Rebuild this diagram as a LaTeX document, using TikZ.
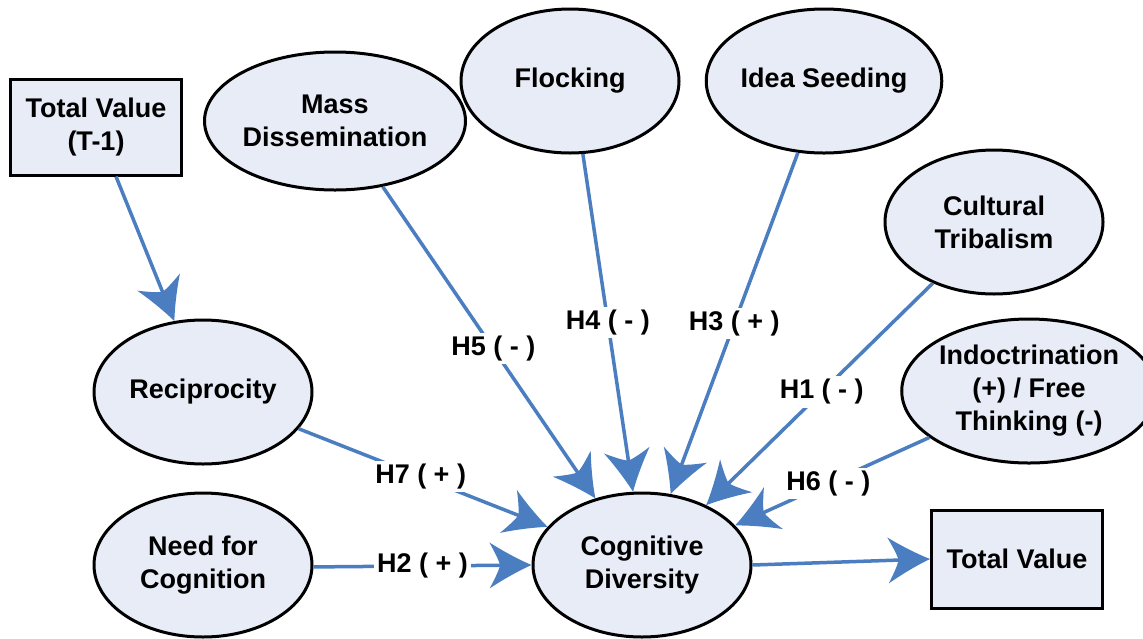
\documentclass[tikz,border=0pt]{standalone}
\usepackage{fontspec}
\setmainfont{Liberation Sans}
\usetikzlibrary{arrows.meta,shapes.geometric}
\definecolor{linkblue}{HTML}{4A7EC1}
\definecolor{nodefill}{HTML}{E8ECF6}

% arrow head with gently concave flanks and swept-back barbs
\pgfdeclarearrow{
  name=Swept,
  parameters={\the\pgfarrowlength,\the\pgfarrowwidth},
  setup code={
    \pgfarrowssettipend{0pt}
    \pgfarrowssetlineend{-.5\pgfarrowlength}
    \pgfarrowsupperhullpoint{0pt}{0pt}
    \pgfarrowsupperhullpoint{-\pgfarrowlength}{.5\pgfarrowwidth}
    \pgfarrowssavethe\pgfarrowlength
    \pgfarrowssavethe\pgfarrowwidth
  },
  drawing code={
    \pgfpathmoveto{\pgfpointorigin}
    \pgfpathcurveto{\pgfpoint{-.4\pgfarrowlength}{.16\pgfarrowwidth}}
                   {\pgfpoint{-.8\pgfarrowlength}{.38\pgfarrowwidth}}
                   {\pgfpoint{-\pgfarrowlength}{.5\pgfarrowwidth}}
    \pgfpathcurveto{\pgfpoint{-.88\pgfarrowlength}{.3\pgfarrowwidth}}
                   {\pgfpoint{-.77\pgfarrowlength}{.1\pgfarrowwidth}}
                   {\pgfpoint{-.75\pgfarrowlength}{0pt}}
    \pgfpathcurveto{\pgfpoint{-.77\pgfarrowlength}{-.1\pgfarrowwidth}}
                   {\pgfpoint{-.88\pgfarrowlength}{-.3\pgfarrowwidth}}
                   {\pgfpoint{-\pgfarrowlength}{-.5\pgfarrowwidth}}
    \pgfpathcurveto{\pgfpoint{-.8\pgfarrowlength}{-.38\pgfarrowwidth}}
                   {\pgfpoint{-.4\pgfarrowlength}{-.16\pgfarrowwidth}}
                   {\pgfpointorigin}
    \pgfpathclose
    \pgfusepathqfill
  },
  defaults={length=42pt,width=46pt}
}

\begin{document}
\begin{tikzpicture}[x=1pt,y=-1pt,
  every node/.style={font=\fontsize{27}{33}\selectfont\bfseries, align=center, inner sep=0pt},
  factor/.style={ellipse, draw=black, line width=3pt, fill=nodefill,
                 minimum width=218pt, minimum height=144pt},
  valuebox/.style={rectangle, draw=black, line width=3pt, fill=nodefill,
                   minimum width=171pt, minimum height=96pt},
  link/.style={draw=linkblue, line width=3.5pt,
               -{Swept[length=42pt,width=46pt]}},
  hyp/.style={fill=white, inner sep=3pt}
]
\useasboundingbox (0,0) rectangle (1143,638);
\fill[white] (0,0) rectangle (1143,638);

% model constructs
\node[valuebox] (tvprev) at (96,127) {Total Value\\(T-1)};
\node[factor, minimum width=237pt, minimum height=138pt] (mass) at (335,121) {Mass\\Dissemination};
\node[factor] (flock) at (570,81) {Flocking};
\node[factor] (seed) at (824,81) {Idea Seeding};
\node[factor] (tribe) at (994,222) {Cultural\\Tribalism};
\node[factor, minimum width=232pt] (indoc) at (1029,391) {Indoctrination\\(+) / Free\\Thinking (-)};
\node[factor] (recip) at (203,392) {Reciprocity};
\node[factor] (need) at (203,565) {Need for\\Cognition};
\node[factor] (cd) at (642,565) {Cognitive\\Diversity};
\node[valuebox, minimum height=98pt] (tv) at (1017,559) {Total Value};

% hypothesised paths
\draw[link] (tvprev.-68) -- (recip.112.6);
\draw[link] (mass.-54) -- node[hyp, pos=0.52] {H5 ( - )} (cd.125);
\draw[link] (flock.-80.5) -- node[hyp, pos=0.5] {H4 ( - )} (cd.97.8);
\draw[link] (seed.-110.6) -- node[hyp, pos=0.5] {H3 ( + )} (cd.68);
\draw[link] (tribe.-135.5) -- node[hyp, pos=0.49] {H1 ( - )} (cd.43.6);
\draw[link] (indoc.-155) -- node[hyp, pos=0.52] {H6 ( - )} (cd.23.8);
\draw[link] (recip.-21.8) -- node[hyp, pos=0.49] {H7 ( + )} (cd.158);
\draw[link] (need.-1) -- node[hyp, pos=0.5] {H2 ( + )} (cd.180);
\draw[link] (cd.0) -- (tv.180);
\end{tikzpicture}
\end{document}
